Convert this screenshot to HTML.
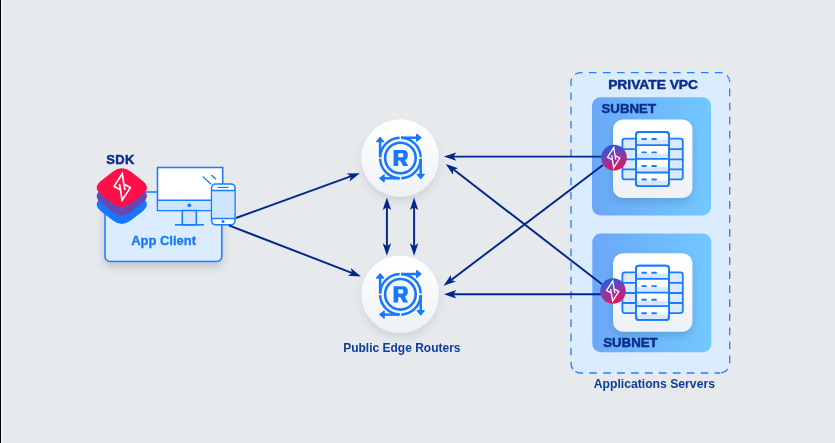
<!DOCTYPE html>
<html><head><meta charset="utf-8">
<style>
html,body{margin:0;padding:0;background:#e6eaed;}
body{width:835px;height:443px;overflow:hidden;position:relative;font-family:"Liberation Sans",sans-serif;}
svg{position:absolute;left:0;top:0;display:block}
text{font-family:"Liberation Sans",sans-serif;font-weight:bold}
</style></head><body>
<svg width="835" height="443" viewBox="0 0 835 443">
<defs>
  <linearGradient id="gSub" x1="0" y1="0" x2="1" y2="0">
    <stop offset="0" stop-color="#6aa8f7"/><stop offset="1" stop-color="#72c8ff"/>
  </linearGradient>
  <linearGradient id="gCard" x1="0" y1="0" x2="0" y2="1">
    <stop offset="0" stop-color="#ffffff"/><stop offset="1" stop-color="#eef1f5"/>
  </linearGradient>
  <linearGradient id="gBolt" x1="0.3" y1="0" x2="0.7" y2="1">
    <stop offset="0" stop-color="#1f5be0"/><stop offset="0.5" stop-color="#8a3aa6"/><stop offset="1" stop-color="#ee0f4a"/>
  </linearGradient>
  <filter id="sh" x="-30%" y="-30%" width="160%" height="170%">
    <feGaussianBlur in="SourceAlpha" stdDeviation="5"/><feOffset dy="5"/>
    <feComponentTransfer><feFuncA type="linear" slope="0.095"/></feComponentTransfer>
    <feMerge><feMergeNode/><feMergeNode in="SourceGraphic"/></feMerge>
  </filter>
  <filter id="sh3" x="-30%" y="-30%" width="160%" height="180%">
    <feGaussianBlur in="SourceAlpha" stdDeviation="5"/><feOffset dy="5"/>
    <feComponentTransfer><feFuncA type="linear" slope="0.16"/></feComponentTransfer>
    <feMerge><feMergeNode/><feMergeNode in="SourceGraphic"/></feMerge>
  </filter>
  <filter id="sh2" x="-30%" y="-30%" width="160%" height="170%">
    <feGaussianBlur in="SourceAlpha" stdDeviation="4"/><feOffset dy="4"/>
    <feComponentTransfer><feFuncA type="linear" slope="0.14"/></feComponentTransfer>
    <feMerge><feMergeNode/><feMergeNode in="SourceGraphic"/></feMerge>
  </filter>
  <!-- arrow head pointing +x, tip at 0,0 -->
  <path id="ah" d="M0,0 L-12.5,-4.2 L-9.6,0 L-12.5,4.2 Z" fill="#00288c"/>
  <!-- router icon centred at 0,0 -->
  <g id="router" fill="none" stroke="#1677ff" stroke-width="2.45">
    <circle r="15.3" stroke-width="2.6"/>
    <!-- quarter arcs r=20.3 with gaps -->
    <path d="M0.8,-20.3 A20.3,20.3 0 0 1 20.3,-0.8"/>
    <path d="M20.3,0.8 A20.3,20.3 0 0 1 0.8,20.3"/>
    <path d="M-0.8,20.3 A20.3,20.3 0 0 1 -20.3,0.8"/>
    <path d="M-20.3,-0.8 A20.3,20.3 0 0 1 -0.8,-20.3"/>
    <!-- tangent lines -->
    <path d="M0.8,-20.3 H17"/>
    <path d="M20.3,0.8 V17"/>
    <path d="M-0.8,20.3 H-17"/>
    <path d="M-20.3,-0.8 V-17"/>
    <!-- arrow heads -->
    <path d="M16.3,-23.7 L20.5,-20.3 L16.3,-16.9 Z" fill="#1677ff" stroke-width="1.3" stroke-linejoin="round"/>
    <path d="M23.7,16.3 L20.3,20.5 L16.9,16.3 Z" fill="#1677ff" stroke-width="1.3" stroke-linejoin="round"/>
    <path d="M-16.3,23.7 L-20.5,20.3 L-16.3,16.9 Z" fill="#1677ff" stroke-width="1.3" stroke-linejoin="round"/>
    <path d="M-23.7,-16.3 L-20.3,-20.5 L-16.9,-16.3 Z" fill="#1677ff" stroke-width="1.3" stroke-linejoin="round"/>
    <!-- R -->
    <path d="M-6.8,-8.1 H2.8 Q7.4,-8.1 7.4,-3.6 V-2.2 Q7.4,1.3 4.4,2.1 L7.8,8.1 H2.9 L-0.3,2.6 H-2.2 V8.1 H-6.8 Z M-2.2,-4.8 V-0.8 H1.6 Q2.9,-0.8 2.9,-2.1 V-3.5 Q2.9,-4.8 1.6,-4.8 Z" fill="#1677ff" stroke="none" fill-rule="evenodd"/>
  </g>
  <!-- server icon, centre stack 635.5..669.1 x, 131.7..186 y => local coords origin at card top-left (613,119.6) -->
  <g id="server" stroke="#1a7bff" stroke-width="1.8" fill="none">
    <!-- side stacks -->
    <rect x="9.4" y="19" width="60.4" height="40.8" rx="2.5" fill="#dbeaff"/>
    <path d="M9.4,29.6 H69.8 M9.4,39.7 H69.8 M9.4,49.7 H69.8"/>
    <!-- centre stack -->
    <rect x="23" y="12.4" width="33" height="54.2" rx="3" fill="#ffffff"/>
    <rect x="23.6" y="20.3" width="31.8" height="5" fill="#d6e8ff" stroke="none"/>
    <rect x="23.6" y="34" width="31.8" height="5.2" fill="#d6e8ff" stroke="none"/>
    <rect x="23.6" y="47.6" width="31.8" height="5.2" fill="#d6e8ff" stroke="none"/>
    <rect x="23.6" y="61" width="31.8" height="5" fill="#d6e8ff" stroke="none"/>
    <path d="M23,25.6 H56 M23,39.3 H56 M23,52.9 H56"/>
    <path d="M29.2,19.4 h3.8 m6.2,0 h3.8 M29.2,32.8 h3.8 m6.2,0 h3.8 M29.2,46.4 h3.8 m6.2,0 h3.8 M29.2,59.9 h3.8 m6.2,0 h3.8" stroke-width="1.9" stroke-linecap="round"/>
    <rect x="23" y="12.4" width="33" height="54.2" rx="3"/>
  </g>
  <g id="zbolt" fill="none" stroke="#fff" stroke-width="1.7" stroke-linejoin="miter" stroke-miterlimit="10">
    <path d="M2.7,2.8 L0.05,-13.2 L-8.1,-0.6 L-2.3,2.5"/>
    <path d="M-2.7,-2.8 L-0.05,13.2 L8.1,0.6 L2.3,-2.5"/>
  </g>
  <!-- small bolt badge centred at 0,0 r 12.7 -->
  <g id="badge">
    <circle r="12.8" fill="url(#gBolt)"/>
    <use href="#zbolt" transform="translate(-0.3,0) scale(0.76)"/>
  </g>
</defs>

<!-- left edge lines -->
<rect x="0" y="0" width="1" height="443" fill="#000"/>
<rect x="1" y="0" width="1" height="443" fill="#f7fafc"/>

<!-- VPC -->
<rect x="571" y="72.6" width="158.7" height="300.4" rx="9.5" fill="#dcecff"/>
<g fill="none" stroke="#2480fa" stroke-width="1.3">
  <path d="M573.78,75.38 A9.5,9.5 0 0 1 580.5,72.6 H720.2 A9.5,9.5 0 0 1 726.92,75.38" stroke-dasharray="7.7 6.3" stroke-dashoffset="12.19"/>
  <path d="M726.92,75.38 A9.5,9.5 0 0 1 729.7,82.1 V363.5 A9.5,9.5 0 0 1 720.2,373" stroke-dasharray="7.7 6.35" stroke-dashoffset="0.14"/>
  <path d="M573.78,370.22 A9.5,9.5 0 0 0 580.5,373 H720.2" stroke-dasharray="7.7 6.23" stroke-dashoffset="11.75"/>
  <path d="M573.78,75.38 A9.5,9.5 0 0 0 571,82.1 V363.5 A9.5,9.5 0 0 0 573.78,370.22" stroke-dasharray="7.7 6.47" stroke-dashoffset="10.46"/>
</g>
<rect x="592" y="97.2" width="119" height="118.4" rx="8.5" fill="url(#gSub)"/>
<rect x="592.3" y="233.5" width="119" height="118.8" rx="8.5" fill="url(#gSub)"/>
<g filter="url(#sh2)"><rect x="613" y="119.6" width="79.4" height="78.4" rx="10" fill="url(#gCard)"/></g>
<g filter="url(#sh2)"><rect x="613" y="253.3" width="79.4" height="78.4" rx="10" fill="url(#gCard)"/></g>
<use href="#server" x="613" y="119.6"/>
<use href="#server" x="613" y="253.3"/>

<!-- App client -->
<g filter="url(#sh3)"><rect x="105" y="192" width="116.8" height="69.5" rx="5" fill="#dcecff" stroke="#1a7bff" stroke-width="1.5"/></g>
<text opacity="0.999" x="131.2" y="244.9" font-size="12.3" fill="#1677ff" stroke="#1677ff" stroke-width="0.3" textLength="64.8" lengthAdjust="spacingAndGlyphs">App Client</text>

<!-- monitor -->
<g stroke="#1a7bff" stroke-width="1.55" fill="none">
  <rect x="157.5" y="167.5" width="65.2" height="43" fill="#ffffff"/>
  <rect x="158.2" y="200.7" width="63.8" height="9.1" fill="#cfe4ff" stroke="none"/>
  <path d="M157.5,200.2 H222.7"/>
  <rect x="182.3" y="210.5" width="14" height="14.3" fill="#cfe4ff"/>
  <path d="M175,224.8 H204" stroke-width="1.6"/>
  <circle cx="189.3" cy="205.3" r="1.9" fill="#1a7bff" stroke="none"/>
  <path d="M202.8,176.4 L211,184.3 M211.3,174.9 L216,179.2" stroke-width="1.3"/>
</g>
<!-- phone -->
<g stroke="#1a7bff" stroke-width="1.55" fill="none">
  <rect x="211.6" y="183.9" width="23.4" height="40.9" rx="4" fill="#ffffff"/>
  <rect x="212.3" y="190.8" width="22" height="27.4" fill="#cfe4ff" stroke="none"/>
  <path d="M211.6,190.5 H235 M211.6,218.4 H235"/>
  <path d="M217.7,187.4 H228.7" stroke-width="1.2"/>
  <circle cx="223" cy="221.5" r="1.5" fill="#1a7bff" stroke="none"/>
</g>

<!-- SDK stack -->
<text opacity="0.999" x="106.3" y="163.7" font-size="13" fill="#0a2d8c" stroke="#0a2d8c" stroke-width="0.45" letter-spacing="0.3">SDK</text>
<path d="M101.15,194.60 Q92.30,187.70 101.15,180.80 L112.95,171.60 Q121.80,164.70 130.65,171.60 L142.45,180.80 Q151.30,187.70 142.45,194.60 L130.65,203.80 Q121.80,210.70 112.95,203.80 Z" fill="#1677ff" transform="translate(0,16.8)"/>
<path d="M101.15,194.60 Q92.30,187.70 101.15,180.80 L112.95,171.60 Q121.80,164.70 130.65,171.60 L142.45,180.80 Q151.30,187.70 142.45,194.60 L130.65,203.80 Q121.80,210.70 112.95,203.80 Z" fill="#6547b5" transform="translate(0,8.4)"/>
<path d="M101.15,194.60 Q92.30,187.70 101.15,180.80 L112.95,171.60 Q121.80,164.70 130.65,171.60 L142.45,180.80 Q151.30,187.70 142.45,194.60 L130.65,203.80 Q121.80,210.70 112.95,203.80 Z" fill="#ff1048"/>
<use href="#zbolt" transform="translate(122.2,187)"/>

<!-- routers -->
<g filter="url(#sh)"><circle cx="400.2" cy="158" r="38.8" fill="url(#gCard)"/></g>
<g filter="url(#sh)"><circle cx="400.2" cy="294.3" r="38.8" fill="url(#gCard)"/></g>
<use href="#router" x="400.4" y="158"/>
<use href="#router" x="400.4" y="294.3"/>
<text opacity="0.999" x="343.2" y="351.6" font-size="12" fill="#0f3d9c">Public Edge Routers</text>

<!-- connectors -->
<g stroke="#00288c" stroke-width="1.95" fill="none">
  <path d="M236,218 L352,175.9"/>
  <path d="M228.8,225.4 L353,273.3"/>
  <path d="M386.9,205 V249"/>
  <path d="M414.1,205 V249"/>
  <path d="M452,156.6 H602"/>
  <path d="M452,294.3 H602"/>
  <path d="M450.5,280.5 L603,165"/>
  <path d="M452,168.3 L602,284.3"/>
</g>
<use href="#ah" transform="translate(359.9,173.2) rotate(-20)"/>
<use href="#ah" transform="translate(361,276.4) rotate(21)"/>
<use href="#ah" transform="translate(386.9,197.6) rotate(-90)"/>
<use href="#ah" transform="translate(386.9,255.8) rotate(90)"/>
<use href="#ah" transform="translate(414.1,197.6) rotate(-90)"/>
<use href="#ah" transform="translate(414.1,255.8) rotate(90)"/>
<use href="#ah" transform="translate(443.8,156.6) rotate(180)"/>
<use href="#ah" transform="translate(443.8,294.3) rotate(180)"/>
<use href="#ah" transform="translate(443.5,285.8) rotate(142.8)"/>
<use href="#ah" transform="translate(445.7,163.9) rotate(-142.3)"/>

<use href="#badge" x="614" y="157.6"/>
<use href="#badge" x="613" y="291"/>

<!-- labels -->
<text opacity="0.999" x="608.2" y="89.4" font-size="12.6" fill="#0a2d8c" stroke="#0a2d8c" stroke-width="0.45" textLength="89.8" lengthAdjust="spacingAndGlyphs">PRIVATE VPC</text>
<text opacity="0.999" x="601.5" y="113.1" font-size="12.4" fill="#0a2d8c" stroke="#0a2d8c" stroke-width="0.45" textLength="54.5" lengthAdjust="spacingAndGlyphs">SUBNET</text>
<text opacity="0.999" x="603.2" y="346.9" font-size="12.4" fill="#0a2d8c" stroke="#0a2d8c" stroke-width="0.45" textLength="54.5" lengthAdjust="spacingAndGlyphs">SUBNET</text>
<text opacity="0.999" x="593.7" y="388.2" font-size="12.2" fill="#0f3d9c">Applications Servers</text>
</svg>
</body></html>
